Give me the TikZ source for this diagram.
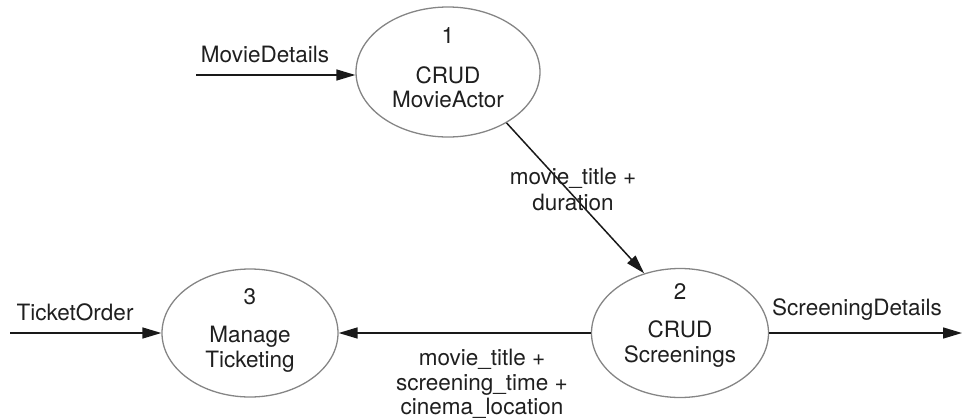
\documentclass[tikz,border=0pt]{standalone}
\usepackage{fontspec}
\setmainfont{TeX Gyre Heros}
\usetikzlibrary{shapes.geometric,arrows.meta}
\begin{document}
\begin{tikzpicture}[x=1pt,y=-1pt,
  proc/.style={ellipse,draw=black!48,line width=1.3pt,inner sep=0pt},
  txt/.style={font=\fontsize{22.5}{26}\selectfont,text=black!88,anchor=base,inner sep=0pt},
  flow/.style={line width=1.5pt,draw=black!90,-{Triangle[length=19pt,width=11pt]}}]
\useasboundingbox (0,0) rectangle (962,418);

% processes
\node[proc,minimum width=184pt,minimum height=130pt] (p1) at (448,72) {};
\node[proc,minimum width=177pt,minimum height=129pt] (p2) at (680,333) {};
\node[proc,minimum width=176pt,minimum height=128pt] (p3) at (250,333) {};

\node[txt] (p1n) at (448,43) {1};
\node[txt] (p1a) at (448,83) {CRUD};
\node[txt] (p1b) at (448,107) {MovieActor};

\node[txt] (p2n) at (680,299) {2};
\node[txt] (p2a) at (680,337) {CRUD};
\node[txt] (p2b) at (680,362) {Screenings};

\node[txt] (p3n) at (250,304) {3};
\node[txt] (p3a) at (250,342) {Manage};
\node[txt] (p3b) at (250,367) {Ticketing};

% external ends of flows
\coordinate (mdIn) at (196,75);
\coordinate (toIn) at (10,333);
\coordinate (sdOut) at (962,333);

% flows
\draw[flow] (mdIn) -- (mdIn -| p1.west);
\draw[flow] (toIn) -- (p3.west);
\draw[flow] (p2.east) -- (sdOut);
\draw[flow] (p2.west) -- (p3.east);
\draw[flow] (p1.-41) -- (p2.121);

% flow labels
\node[txt] (lmd) at (265,62) {MovieDetails};
\node[txt] (lto) at (75,320) {TicketOrder};
\node[txt] (lsd) at (857,315) {ScreeningDetails};
\node[txt] (ld1) at (573,184) {movie\_title +};
\node[txt] (ld2) at (573,210) {duration};
\node[txt] (ls1) at (482,365) {movie\_title +};
\node[txt] (ls2) at (482,390) {screening\_time +};
\node[txt] (ls3) at (482,414) {cinema\_location};
\end{tikzpicture}
\end{document}
